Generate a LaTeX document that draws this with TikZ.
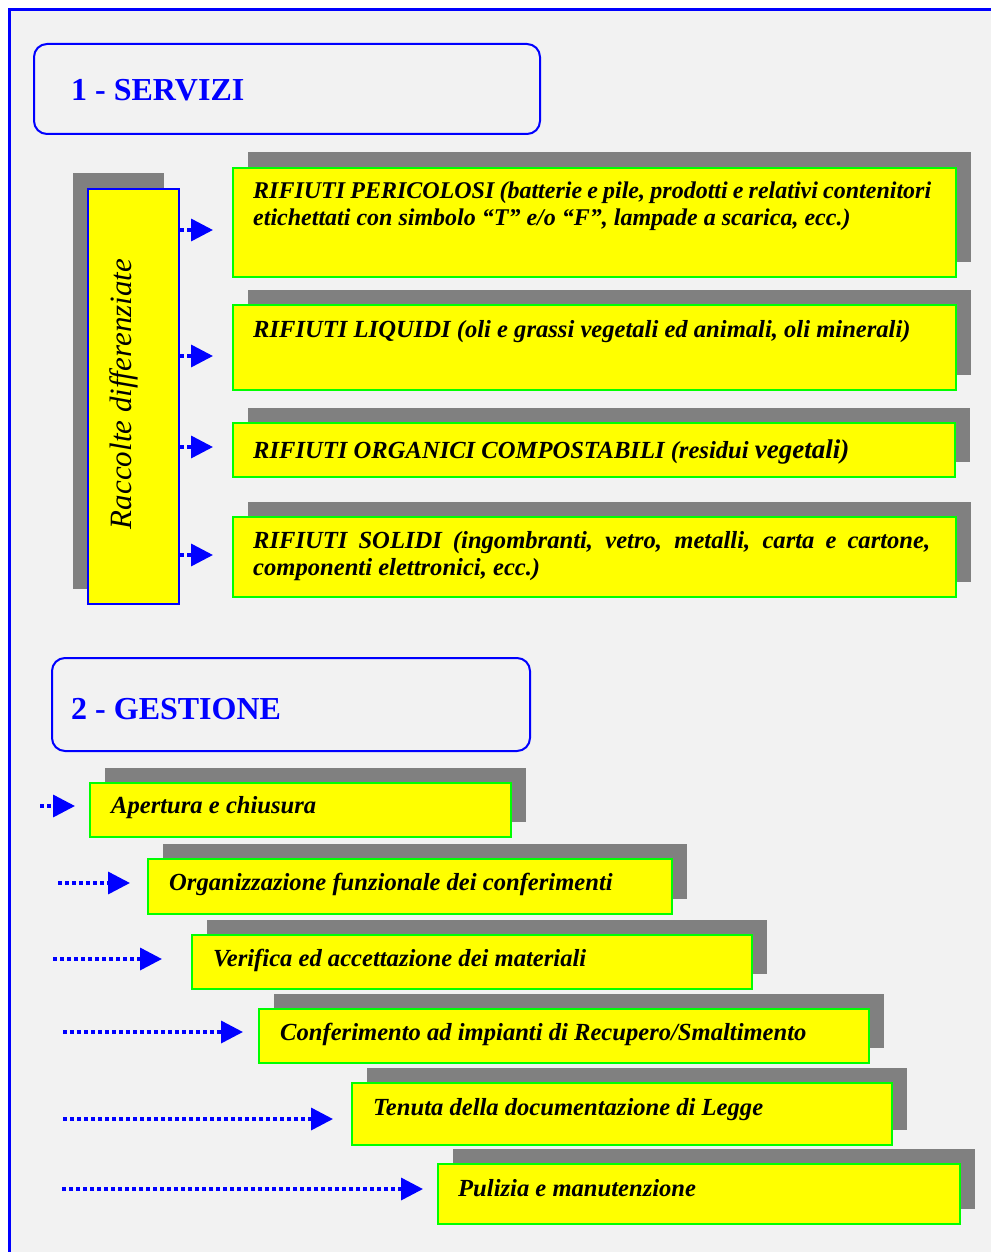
\documentclass[tikz,border=0pt]{standalone}
\usepackage{fontspec}
\setmainfont{Liberation Serif}
\usetikzlibrary{arrows.meta,shadows,calc}
\definecolor{bgc}{HTML}{F2F2F2}
\definecolor{shg}{HTML}{808080}
\definecolor{ylw}{HTML}{FFFF00}
\definecolor{grn}{HTML}{00FF00}
\definecolor{blu}{HTML}{0000FF}
\tikzset{
 ybox/.style={draw=grn, fill=ylw, line width=2pt, inner sep=0pt, anchor=north west,
   general shadow={fill=shg, draw=none, shadow xshift=14.5pt, shadow yshift=15.5pt}},
 vbox/.style={draw=blu, fill=ylw, line width=2pt, inner sep=0pt, anchor=north west,
   general shadow={fill=shg, draw=none, shadow xshift=-15.5pt, shadow yshift=15.5pt}},
 hdr/.style={draw=blu, line width=2pt, rounded corners=13pt, inner sep=0pt, anchor=north west},
 hdrtxt/.style={anchor=base west, inner sep=0pt, text=blu, font=\fontsize{32}{32}\selectfont\bfseries},
 btxt/.style={anchor=base west, inner sep=0pt, font=\fontsize{24.6}{27}\selectfont\bfseries\itshape},
 arr/.style={draw=blu, line width=3.5pt, dash pattern=on 4pt off 3pt,
   -{Triangle[length=22pt,width=22pt]}},
}
\begin{document}
\begin{tikzpicture}[x=1pt,y=-1pt]
\useasboundingbox (0,0) rectangle (991,1252);
\fill[white] (0,0) rectangle (991,1252);
\fill[bgc] (10,10) rectangle (991,1252);
\draw[blu, line width=3pt] (9.5,1252) -- (9.5,9.5) -- (991,9.5);

% headers
\node[hdr, minimum width=506pt, minimum height=90pt] (h1) at (33,43) {};
\node[hdrtxt] (h1t) at (71,101) {1 - SERVIZI};
\node[hdr, minimum width=478pt, minimum height=93pt] (h2) at (51,657) {};
\node[hdrtxt] (h2t) at (71,719) {2 - GESTIONE};

% section 1
\node[vbox, minimum width=91pt, minimum height=415pt] (v) at (87,188) {};
\node[rotate=90, inner sep=0pt, font=\fontsize{31}{31}\selectfont\itshape] (vt) at (124,394) {Raccolte differenziate};

\node[ybox, minimum width=723pt, minimum height=109pt] (b1) at (232,167) {};
\node[ybox, minimum width=723pt, minimum height=85pt] (b2) at (232,304) {};
\node[ybox, minimum width=722pt, minimum height=54pt] (b3) at (232,422) {};
\node[ybox, minimum width=723pt, minimum height=80pt] (b4) at (232,516) {};

\node[btxt, font=\fontsize{24}{27}\selectfont\bfseries\itshape] (b1t) at (253,199) {\parbox[t]{678pt}{RIFIUTI PERICOLOSI (batterie e pile, prodotti e relativi contenitori\linebreak etichettati con simbolo “T” e/o “F”, lampade a scarica, ecc.)}};
\node[btxt] (b2t) at (253,337) {RIFIUTI LIQUIDI (oli e grassi vegetali ed animali, oli minerali)};
\node[btxt] (b3t) at (253,458) {RIFIUTI ORGANICI COMPOSTABILI (residui {\fontsize{27}{27}\selectfont vegetali)}};
\node[btxt] (b4t) at (253,548) {\parbox[t]{677pt}{RIFIUTI SOLIDI (ingombranti, vetro, metalli, carta e cartone,\linebreak componenti elettronici, ecc.)}};

\coordinate (a1) at (0,230);
\coordinate (a2) at (0,356);
\coordinate (a3) at (0,447);
\coordinate (a4) at (0,555);
\draw[arr, shorten >=19pt] (v.east |- a1) -- (b1.west |- a1);
\draw[arr, shorten >=19pt] (v.east |- a2) -- (b2.west |- a2);
\draw[arr, shorten >=19pt] (v.east |- a3) -- (b3.west |- a3);
\draw[arr, shorten >=19pt] (v.east |- a4) -- (b4.west |- a4);

% section 2
\node[ybox, minimum width=421pt, minimum height=54pt] (g1) at (89,782) {};
\node[ybox, minimum width=524pt, minimum height=55pt] (g2) at (147,858) {};
\node[ybox, minimum width=560pt, minimum height=54pt] (g3) at (191,934) {};
\node[ybox, minimum width=610pt, minimum height=54pt] (g4) at (258,1008) {};
\node[ybox, minimum width=540pt, minimum height=62pt] (g5) at (351,1082) {};
\node[ybox, minimum width=522pt, minimum height=60pt] (g6) at (437,1163) {};

\node[btxt] (g1t) at (111,813) {Apertura e chiusura};
\node[btxt] (g2t) at (169,890) {Organizzazione funzionale dei conferimenti};
\node[btxt] (g3t) at (213,966) {Verifica ed accettazione dei materiali};
\node[btxt] (g4t) at (280,1040) {Conferimento ad impianti di Recupero/Smaltimento};
\node[btxt] (g5t) at (373,1115) {Tenuta della documentazione di Legge};
\node[btxt] (g6t) at (458,1196) {Pulizia e manutenzione};

\coordinate (s1) at (40,806);
\coordinate (s2) at (58,883);
\coordinate (s3) at (53,959);
\coordinate (s4) at (63,1032);
\coordinate (s5) at (63,1119);
\coordinate (s6) at (62,1189);
\draw[arr, shorten >=14pt] (s1) -- (g1.west |- s1);
\draw[arr, shorten >=17pt] (s2) -- (g2.west |- s2);
\draw[arr, shorten >=29pt] (s3) -- (g3.west |- s3);
\draw[arr, shorten >=15pt] (s4) -- (g4.west |- s4);
\draw[arr, shorten >=18pt] (s5) -- (g5.west |- s5);
\draw[arr, shorten >=14pt] (s6) -- (g6.west |- s6);
\end{tikzpicture}
\end{document}
